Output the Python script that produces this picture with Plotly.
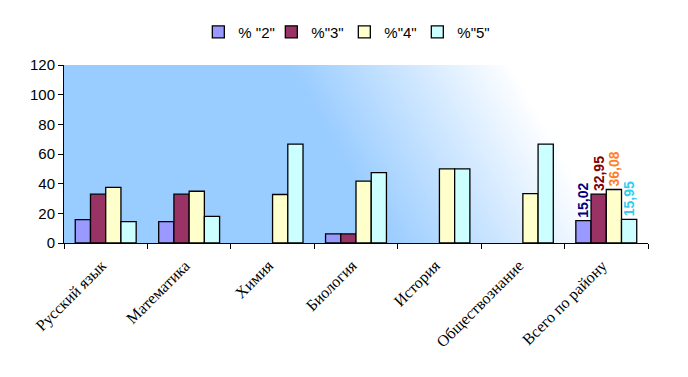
import plotly.graph_objects as go
import base64

categories = ["Русский язык", "Математика", "Химия", "Биология", "История",
              "Обществознание", "Всего по району"]
series_names = ['% "2"', '%"3"', '%"4"', '%"5"']
vals_2 = [15.8, 14.4, 0, 6.1, 0, 0, 15.02]
vals_3 = [32.9, 32.9, 0, 6.1, 0, 0, 32.95]
vals_4 = [37.5, 34.9, 32.7, 41.7, 50.0, 33.3, 36.08]
vals_5 = [14.4, 18.0, 66.7, 47.5, 50.0, 66.7, 15.95]
y_ticks = [0, 20, 40, 60, 80, 100, 120]

fills = ["#9999FF", "#993366", "#FFFFCC", "#CCFFFF"]
label_colors = ["#000080", "#800000", "#FF7F27", "#33CCEE"]

def fmt(v):
    return ("%.2f" % v).replace(".", ",")

fig = go.Figure()
for name, vals, fc, lc in zip(series_names, [vals_2, vals_3, vals_4, vals_5], fills, label_colors):
    texts = [""] * (len(vals) - 1) + [fmt(vals[-1])]
    lw = [1.3 if v > 0 else 0 for v in vals]
    fig.add_trace(go.Bar(
        x=categories, y=vals, name=name,
        marker=dict(color=fc, line=dict(color="black", width=lw)),
        text=texts, textposition="outside", textangle=-90,
        textfont=dict(family="Liberation Sans, Arial", size=14, color=lc, weight="bold"),
        constraintext="none", cliponaxis=False,
    ))

svg = ('<svg xmlns="http://www.w3.org/2000/svg" width="584" height="178" viewBox="0 0 584 178" preserveAspectRatio="none">'
       '<defs><linearGradient id="g" gradientUnits="userSpaceOnUse" x1="225" y1="0" x2="395" y2="-95">'
       '<stop offset="0" stop-color="#99CCFF"/><stop offset="1" stop-color="#FFFFFF"/>'
       '</linearGradient></defs><rect width="584" height="178" fill="url(#g)"/></svg>')
src = "data:image/svg+xml;base64," + base64.b64encode(svg.encode()).decode()

fig.update_layout(
    width=680, height=369,
    margin=dict(l=56, r=40, t=57, b=134, autoexpand=False),
    paper_bgcolor="white", plot_bgcolor="rgba(0,0,0,0)",
    barmode="group", bargap=0.27, bargroupgap=0,
    font=dict(family="Liberation Sans, Arial", size=14, color="black"),
    showlegend=True,
    legend=dict(orientation="h", x=0.48, xanchor="center", y=1.185, yanchor="middle",
                font=dict(size=15), itemwidth=30, entrywidth=28, entrywidthmode="pixels",
                bgcolor="rgba(0,0,0,0)"),
    images=[dict(source=src, xref="paper", yref="paper", x=0, y=1, sizex=1, sizey=1,
                 xanchor="left", yanchor="top", sizing="stretch", layer="below")],
    xaxis=dict(showline=True, linecolor="black", linewidth=1, ticks="outside",
               tickson="boundaries", ticklen=5, tickcolor="black", tickangle=-45,
               tickfont=dict(family="Liberation Serif, Times New Roman", size=16),
               ticklabelstandoff=6, ticklabelshift=-4,
               showgrid=False, automargin=False),
    yaxis=dict(range=[0, 120], tickvals=y_ticks, showline=True, linecolor="black",
               linewidth=1, ticks="outside", ticklen=5, tickcolor="black",
               showgrid=False, zeroline=False, tickfont=dict(size=15), automargin=False),
)

fig.write_html("out.html")
